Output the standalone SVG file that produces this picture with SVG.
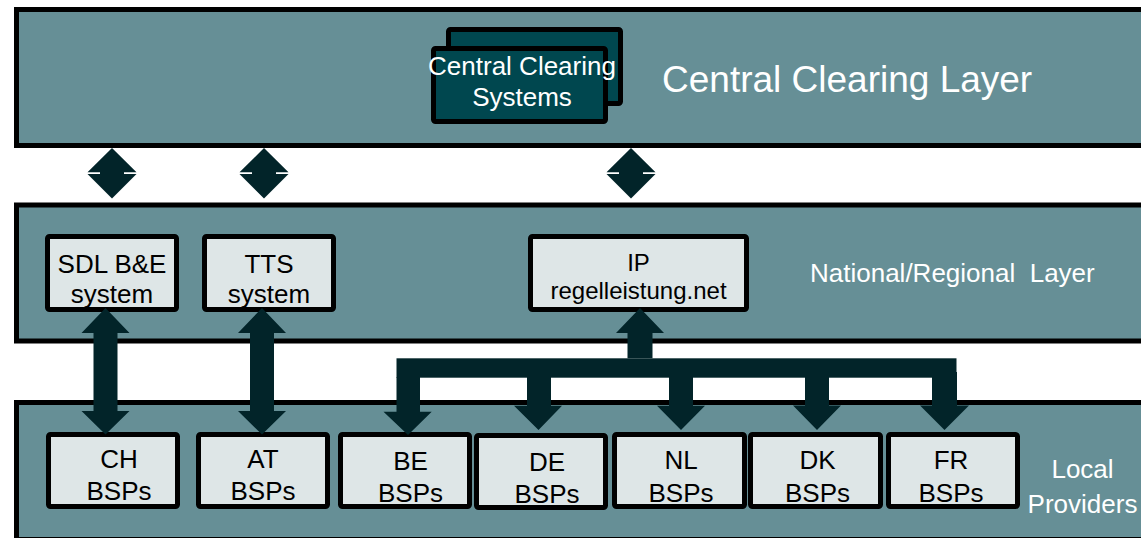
<svg xmlns="http://www.w3.org/2000/svg" width="1141" height="538" viewBox="0 0 1141 538">
  <style>
    .layer { fill: #668f96; stroke: #000; stroke-width: 5; }
    .box { fill: #dee6e7; stroke: #000; stroke-width: 5; }
    .core { fill: #00474f; stroke: #000; stroke-width: 5; }
    .arrow { fill: #022429; stroke: none; }
    text { font-family: "Liberation Sans", Arial, sans-serif; }
    .lbl { font-size: 26px; fill: #000; text-anchor: middle; }
    .wlbl { font-size: 26px; fill: #fff; }
    .mid { text-anchor: middle; }
  </style>

  <!-- Layers -->
  <g id="layer-central">
    <rect class="layer" x="16.5" y="9.5" width="1127" height="136"/>
    <text class="wlbl" x="662" y="92" style="font-size:37px">Central Clearing Layer</text>
  </g>
  <g id="layer-national">
    <rect class="layer" x="16.5" y="205" width="1127" height="136"/>
    <text class="wlbl" x="810" y="282" xml:space="preserve">National/Regional  Layer</text>
  </g>
  <g id="layer-local">
    <rect class="layer" x="16.5" y="402.5" width="1127" height="137"/>
    <text class="wlbl mid" x="1082.5" y="478">Local</text>
    <text class="wlbl mid" x="1082.5" y="513">Providers</text>
  </g>

  <!-- Central clearing systems (stacked) -->
  <g id="ccs">
    <rect class="core" x="448.5" y="29.5" width="172" height="74" rx="2"/>
    <rect class="core" x="433.5" y="48.5" width="172" height="73" rx="2"/>
    <text class="wlbl mid" x="522" y="75">Central Clearing</text>
    <text class="wlbl mid" x="522" y="106">Systems</text>
  </g>

  <!-- National systems -->
  <g id="sdl">
    <rect class="box" x="47.5" y="236.5" width="129" height="73" rx="2"/>
    <text class="lbl" x="112" y="273">SDL B&amp;E</text>
    <text class="lbl" x="112" y="303">system</text>
  </g>
  <g id="tts">
    <rect class="box" x="204.5" y="236.5" width="129" height="73" rx="2"/>
    <text class="lbl" x="269" y="273">TTS</text>
    <text class="lbl" x="269" y="303">system</text>
  </g>
  <g id="ip">
    <rect class="box" x="530.5" y="236.5" width="216" height="73" rx="2"/>
    <text class="lbl" x="638.5" y="271" style="font-size:24px">IP</text>
    <text class="lbl" x="638.5" y="299" style="font-size:24px">regelleistung.net</text>
  </g>

  <!-- Local provider groups -->
  <g id="ch">
    <rect class="box" x="48.5" y="434.5" width="129" height="72" rx="2"/>
    <text class="lbl" x="119" y="468">CH</text>
    <text class="lbl" x="119" y="500">BSPs</text>
  </g>
  <g id="at">
    <rect class="box" x="198.5" y="434.5" width="129" height="72" rx="2"/>
    <text class="lbl" x="263" y="468">AT</text>
    <text class="lbl" x="263" y="500">BSPs</text>
  </g>
  <g id="be">
    <rect class="box" x="340.5" y="434.5" width="129" height="72" rx="2"/>
    <text class="lbl" x="410.5" y="470">BE</text>
    <text class="lbl" x="410.5" y="502">BSPs</text>
  </g>
  <g id="de">
    <rect class="box" x="476.5" y="435.5" width="129" height="72" rx="2"/>
    <text class="lbl" x="547" y="471">DE</text>
    <text class="lbl" x="547" y="503">BSPs</text>
  </g>
  <g id="nl">
    <rect class="box" x="614.5" y="434.5" width="130" height="72" rx="2"/>
    <text class="lbl" x="681" y="469">NL</text>
    <text class="lbl" x="681" y="502">BSPs</text>
  </g>
  <g id="dk">
    <rect class="box" x="750.5" y="434.5" width="130" height="72" rx="2"/>
    <text class="lbl" x="817.5" y="469">DK</text>
    <text class="lbl" x="817.5" y="502">BSPs</text>
  </g>
  <g id="fr">
    <rect class="box" x="888.5" y="434.5" width="129" height="72" rx="2"/>
    <text class="lbl" x="951" y="469">FR</text>
    <text class="lbl" x="951" y="502">BSPs</text>
  </g>

  <!-- Connectors -->
  <g id="connectors" class="arrow">
    <!-- central <-> national double arrows -->
    <polygon points="112,148 136.5,172.3 124,172.3 124,174 136.5,174 112,198.5 87.5,174 100,174 100,172.3 87.5,172.3"/>
    <polygon points="264,148 288.5,172.3 276,172.3 276,174 288.5,174 264,198.5 239.5,174 252,174 252,172.3 239.5,172.3"/>
    <polygon points="631,148 655.5,172.3 643,172.3 643,174 655.5,174 631,198.5 606.5,174 619,174 619,172.3 606.5,172.3"/>

    <!-- national <-> local double arrows -->
    <polygon points="105.5,308 129.5,333 117.5,333 117.5,411 129.5,411 105.5,434.5 81.5,411 93.5,411 93.5,333 81.5,333"/>
    <polygon points="262,308 286,333 274,333 274,411 286,411 262,434.5 238,411 250,411 250,333 238,333"/>

    <!-- IP up-arrow with distribution bar -->
    <polygon points="640,308 664,333 652.5,333 652.5,358.3 627.5,358.3 627.5,333 616,333"/>
    <rect x="396.5" y="358.3" width="560" height="19.4"/>
    <polygon points="396.5,377 420,377 420,411.7 431.7,411.7 408,435 383.5,411.7 396.5,411.7"/>
    <polygon points="527,377 551,377 551,405.7 562,405.7 538.5,430 514,405.7 527,405.7"/>
    <polygon points="669,377 693,377 693,405.7 705,405.7 681,430 657,405.7 669,405.7"/>
    <polygon points="805,377 829,377 829,405.5 841,405.5 817,430 793,405.5 805,405.5"/>
    <polygon points="932,372 957,372 957,405.5 969,405.5 944.5,430 920,405.5 932,405.5"/>
  </g>
</svg>
